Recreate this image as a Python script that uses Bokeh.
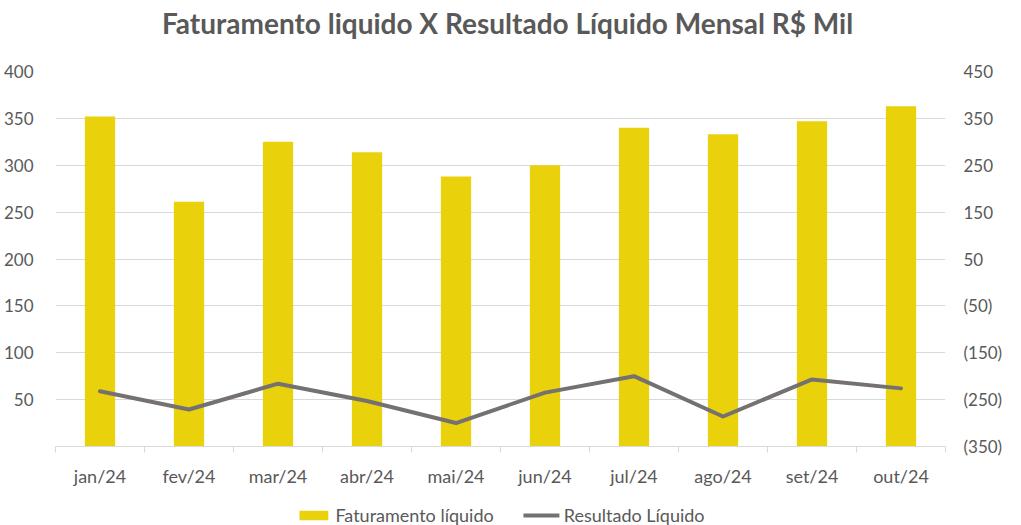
from bokeh.plotting import figure
from bokeh.layouts import column
from bokeh.models import (Range1d, LinearAxis, FixedTicker, CustomJSTickFormatter,
                          Legend, LegendItem, ColumnDataSource, Div)
from bokeh.embed import file_html
from bokeh.resources import INLINE

title_text = "Faturamento liquido X Resultado Líquido Mensal R$ Mil"
months = ["jan/24", "fev/24", "mar/24", "abr/24", "mai/24",
          "jun/24", "jul/24", "ago/24", "set/24", "out/24"]
faturamento = [352, 261, 325, 314, 288, 300, 340, 333, 347, 363]
resultado = [-232, -271, -216, -253, -300, -235, -200, -286, -207, -226]
left_ticks = [50, 100, 150, 200, 250, 300, 350, 400]
right_ticks = [-350, -250, -150, -50, 50, 150, 250, 350, 450]
series_names = ["Faturamento líquido", "Resultado Líquido"]

FONT = "Lato"
TXT = "#595959"
GRID = "#d9d9d9"
BAR = "#E9D10B"
LINE = "#767171"

xs = list(range(len(months)))
src = ColumnDataSource(dict(x=xs, fat=faturamento, res=resultado))

title = Div(text=title_text, width=1005, height=32,
            styles={"text-align": "center", "font-family": FONT, "font-weight": "bold",
                    "font-size": "28px", "color": TXT, "line-height": "36px",
                    "width": "1005px", "white-space": "nowrap"})

p = figure(width=1005, height=461, output_backend="svg", toolbar_location=None,
           x_range=Range1d(-0.5, len(months) - 0.5), y_range=Range1d(0, 400),
           min_border_left=50, min_border_right=58, min_border_top=29,
           min_border_bottom=57)
p.outline_line_color = None
p.background_fill_color = "white"
p.border_fill_color = "white"

p.extra_y_ranges = {"right": Range1d(-350, 450)}

p.vbar(x="x", top="fat", width=0.34, source=src, fill_color=BAR, line_color=None)
p.line(x="x", y="res", source=src, y_range_name="right", line_width=4,
       line_color=LINE, line_join="round", line_cap="round")

# x axis
xa = p.xaxis[0]
xa.ticker = FixedTicker(ticks=xs, minor_ticks=[i - 0.5 for i in range(len(months) + 1)])
xa.major_label_overrides = {i: m for i, m in enumerate(months)}
xa.major_tick_line_color = None
xa.minor_tick_line_color = GRID
xa.minor_tick_in = 0
xa.minor_tick_out = 6
xa.axis_line_color = GRID
xa.major_label_text_font = FONT
xa.major_label_text_font_size = "18px"
xa.major_label_text_color = TXT
xa.major_label_standoff = 12

# left axis
ya = p.yaxis[0]
ya.ticker = FixedTicker(ticks=left_ticks)
ya.axis_line_color = None
ya.major_tick_line_color = None
ya.minor_tick_line_color = None
ya.major_label_text_font = FONT
ya.major_label_text_font_size = "17px"
ya.major_label_text_color = TXT
ya.major_label_standoff = 16

# right axis
ra = LinearAxis(y_range_name="right", ticker=FixedTicker(ticks=right_ticks))
ra.formatter = CustomJSTickFormatter(
    code="return tick < 0 ? '(' + Math.abs(tick) + ')' : '' + tick;")
ra.axis_line_color = None
ra.major_tick_line_color = None
ra.minor_tick_line_color = None
ra.major_label_text_font = FONT
ra.major_label_text_font_size = "17px"
ra.major_label_text_color = TXT
ra.major_label_standoff = 12
p.add_layout(ra, "right")

p.xgrid.grid_line_color = None
p.ygrid.grid_line_color = GRID
p.ygrid.grid_line_width = 1

# legend strip: same series drawn in a small figure whose ranges keep them out of view
lg = figure(width=1005, height=24, output_backend="svg", toolbar_location=None,
            x_range=Range1d(1000, 1001), y_range=Range1d(1000, 1001),
            x_axis_location=None, y_axis_location=None, min_border=0)
lg.outline_line_color = None
lg.xgrid.grid_line_color = None
lg.ygrid.grid_line_color = None
r_bar = lg.vbar(x="x", top="fat", width=0.34, source=src, fill_color=BAR, line_color=None)
r_line = lg.line(x="x", y="res", source=src, line_width=4, line_color=LINE, line_cap="round")
legend = Legend(items=[LegendItem(label=series_names[0], renderers=[r_bar]),
                       LegendItem(label=series_names[1], renderers=[r_line])],
                orientation="horizontal", location="center",
                label_text_font=FONT, label_text_font_size="18px",
                label_text_color=TXT, glyph_width=36, glyph_height=12,
                label_height=18, spacing=30, border_line_color=None,
                background_fill_alpha=0, padding=0, margin=0, label_standoff=4)
lg.add_layout(legend)

open("out.html", "w").write(file_html(column(title, p, lg, spacing=0), INLINE))
